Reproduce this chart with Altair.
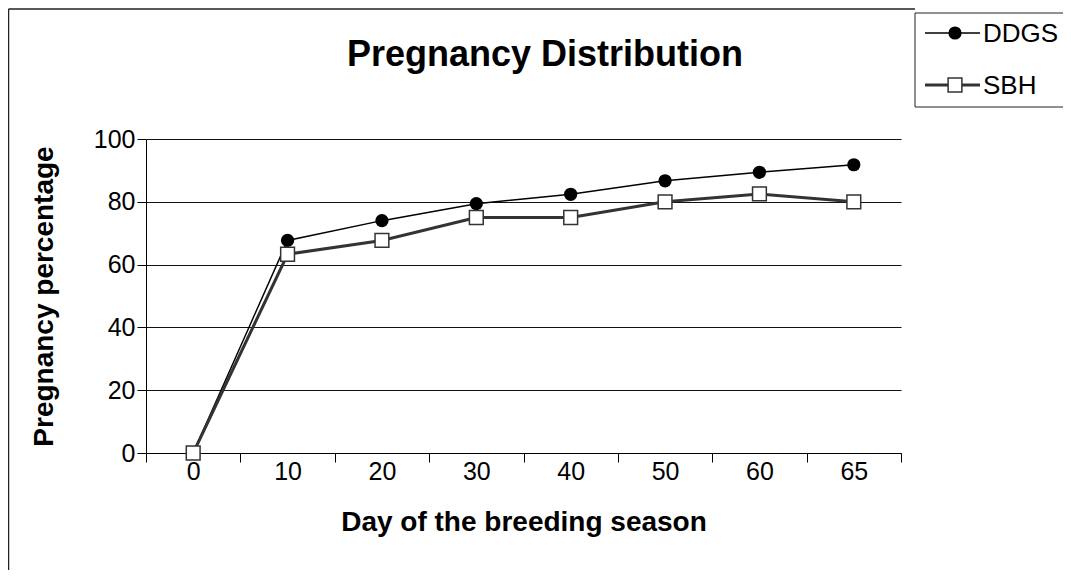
import altair as alt
import pandas as pd

days = ["0", "10", "20", "30", "40", "50", "60", "65"]
ddgs = [0, 67.7, 74.0, 79.4, 82.4, 86.7, 89.4, 91.8]
sbh = [0, 63.3, 67.7, 75.0, 75.0, 80.0, 82.5, 80.0]
series_names = ["DDGS", "SBH"]
chart_title = "Pregnancy Distribution"
x_title = "Day of the breeding season"
y_title = "Pregnancy percentage"
y_ticks = [0, 20, 40, 60, 80, 100]

df = pd.DataFrame({
    "day": days * 2,
    "pct": ddgs + sbh,
    "series": [series_names[0]] * len(days) + [series_names[1]] * len(days),
})

FONT = "Liberation Sans"
W, H = 755, 314
PL, PT = 138, 131
TOTAL_W, TOTAL_H = 1055, 562

xenc = alt.X(
    "day:N", sort=days, bandPosition=0.5,
    scale=alt.Scale(type="band", paddingInner=0, paddingOuter=0),
    axis=alt.Axis(title=x_title, tickBand="extent", grid=False, labelAngle=0,
                  labelPadding=-3, titlePadding=24),
)
yenc = alt.Y(
    "pct:Q", scale=alt.Scale(domain=[0, 100], nice=False),
    axis=alt.Axis(title=y_title, values=y_ticks, grid=True, labelPadding=2,
                  titlePadding=35),
)

base = alt.Chart(df)

d_line = base.transform_filter(alt.datum.series == "DDGS").mark_line(
    color="black", strokeWidth=1.5).encode(x=xenc, y=yenc)
d_pts = base.transform_filter(alt.datum.series == "DDGS").mark_point(
    shape="circle", filled=True, color="black", size=175, opacity=1).encode(x=xenc, y=yenc)
s_line = base.transform_filter(alt.datum.series == "SBH").mark_line(
    color="#333333", strokeWidth=3).encode(x=xenc, y=yenc)
s_pts = base.transform_filter(alt.datum.series == "SBH").mark_point(
    shape="square", filled=True, fill="white", stroke="#333333", strokeWidth=1.5,
    size=190, opacity=1).encode(x=xenc, y=yenc)

one = pd.DataFrame({"k": [0]})
deco = alt.Chart(one)

# outer chart border (top and left)
border_top = deco.mark_rule(color="#222222", strokeWidth=1.5).encode(
    x=alt.value(-PL + 0.5), x2=alt.value(769), y=alt.value(-PT + 1))
border_left = deco.mark_rule(color="#222222", strokeWidth=1.5).encode(
    x=alt.value(-PL + 0.5), y=alt.value(-PT + 1), y2=alt.value(TOTAL_H))

title_txt = deco.mark_text(font=FONT, fontSize=36, fontWeight="bold", color="black",
                           align="center", baseline="middle").encode(
    x=alt.value(399), y=alt.value(-84), text=alt.value(chart_title))

# legend
leg_box = deco.mark_rect(fill="white", stroke="#222222", strokeWidth=1).encode(
    x=alt.value(769), x2=alt.value(940), y=alt.value(-126), y2=alt.value(-32))
leg_l1 = deco.mark_rule(color="black", strokeWidth=1.5).encode(
    x=alt.value(779), x2=alt.value(834), y=alt.value(-106))
leg_p1 = deco.mark_point(shape="circle", filled=True, color="black", size=175, opacity=1).encode(
    x=alt.value(809), y=alt.value(-106))
leg_t1 = deco.mark_text(font=FONT, fontSize=26, color="black", align="left",
                        baseline="middle").encode(
    x=alt.value(837), y=alt.value(-105), text=alt.value(series_names[0]))
leg_l2 = deco.mark_rule(color="#333333", strokeWidth=3).encode(
    x=alt.value(779), x2=alt.value(834), y=alt.value(-54))
leg_p2 = deco.mark_point(shape="square", filled=True, fill="white", stroke="#333333",
                         strokeWidth=1.5, size=190, opacity=1).encode(
    x=alt.value(809), y=alt.value(-54))
leg_t2 = deco.mark_text(font=FONT, fontSize=26, color="black", align="left",
                        baseline="middle").encode(
    x=alt.value(837), y=alt.value(-53), text=alt.value(series_names[1]))

chart = alt.layer(
    border_top, border_left, title_txt,
    d_line, d_pts, s_line, s_pts,
    leg_box, leg_l1, leg_p1, leg_t1, leg_l2, leg_p2, leg_t2,
).properties(
    width=W, height=H,
    autosize=alt.AutoSizeParams(type="none"),
    padding={"left": PL, "top": PT, "right": TOTAL_W - PL - W, "bottom": TOTAL_H - PT - H},
    background="white",
).configure_view(stroke=None).configure_axis(
    labelFont=FONT, titleFont=FONT, labelFontSize=25, titleFontSize=28,
    titleFontWeight="bold", labelColor="black", titleColor="black",
    domainColor="black", tickColor="black", tickSize=9, domainWidth=1, tickWidth=1,
    gridColor="#111111", gridWidth=1,
)

chart.save("out.html", embed_options={"renderer": "svg", "actions": False})
